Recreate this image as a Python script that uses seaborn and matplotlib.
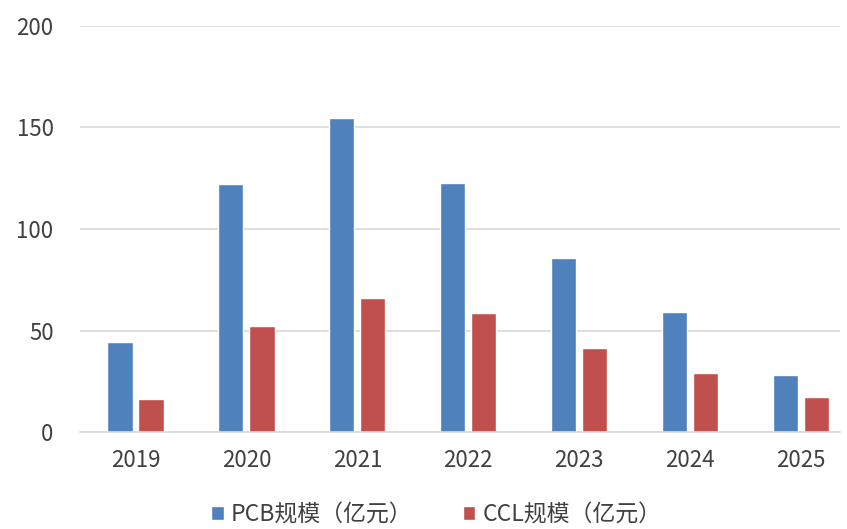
import pandas as pd
import matplotlib.pyplot as plt
import seaborn as sns

# 数据
years = ["2019", "2020", "2021", "2022", "2023", "2024", "2025"]
pcb = [44.3, 122.2, 154.7, 122.7, 85.5, 59.1, 28.1]
ccl = [16.3, 52.2, 66.0, 58.6, 41.4, 28.9, 17.2]
series_names = ["PCB规模（亿元）", "CCL规模（亿元）"]
colors = ["#4F81BD", "#C0504D"]

df = pd.DataFrame({
    "year": years * 2,
    "value": pcb + ccl,
    "series": [series_names[0]] * len(years) + [series_names[1]] * len(years),
})

sns.set_style("white")
plt.rcParams['font.family'] = ['Noto Sans CJK SC', 'DejaVu Sans']

fig = plt.figure(figsize=(8.47, 5.29), dpi=100)
ax = fig.add_axes([80 / 847, 97 / 529, 760 / 847, 406 / 529])

sns.barplot(data=df, x="year", y="value", hue="series", palette=colors,
            width=0.56, gap=0.19, saturation=1, ax=ax)

ax.set_xlim(-0.5, 6.35)
ax.set_ylim(0, 200)
ax.set_yticks([0, 50, 100, 150, 200])
ax.yaxis.grid(True, color="#d9d9d9", linewidth=1.2)
ax.set_axisbelow(True)
for s in ["top", "right", "left"]:
    ax.spines[s].set_visible(False)
ax.spines["bottom"].set_color("#d9d9d9")
ax.spines["bottom"].set_linewidth(1.2)
ax.set_xlabel("")
ax.set_ylabel("")
ax.tick_params(axis="both", length=0, labelsize=16, colors="#404040")
ax.tick_params(axis="y", pad=19)
ax.tick_params(axis="x", pad=12)

handles, labels = ax.get_legend_handles_labels()
ax.get_legend().remove()
fig.legend(handles, labels, loc="center", bbox_to_anchor=(0.515, 0.027),
           ncol=2, frameon=False, fontsize=16.5, handlelength=0.55,
           handleheight=0.55, handletextpad=0.3, columnspacing=2.2,
           labelcolor="#404040")

plt.savefig("out.png", dpi=100)
